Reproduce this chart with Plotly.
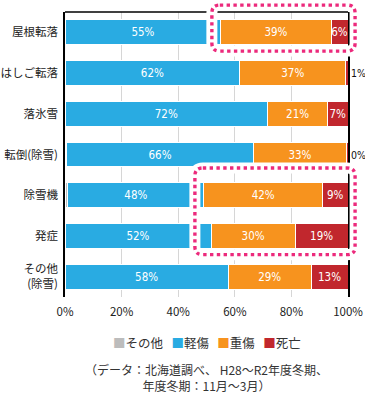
import plotly.graph_objects as go

# ---- data ----
categories = ['屋根転落', 'はしご転落', '落氷雪', '転倒(除雪)', '除雪機', '発症', 'その他<br>(除雪)']
series_names = ['その他', '軽傷', '重傷', '死亡']
other = [0, 0, 0, 0.7, 1.0, 0, 0]
light = [55.1, 61.8, 71.6, 65.8, 48.1, 51.6, 57.7]
serious = [38.9, 37.4, 21.2, 33.1, 41.9, 29.8, 29.3]
death = [6.0, 0.8, 7.2, 0.4, 9.0, 18.6, 13.0]
x_ticks = [0, 20, 40, 60, 80, 100]
x_ticklabels = ['0%', '20%', '40%', '60%', '80%', '100%']
note_lines = ['（データ：北海道調べ、 H28～R2年度冬期、', '年度冬期：11月～3月）']
# highlighted groups: (first row, last row, left x in %)
highlights = [(0, 0, 51.9), (4, 5, 45.9)]

colors = ['#bcbcbc', '#29abe2', '#f7931e', '#c1272d']
pink = '#ec2a7c'
JP = 'Noto Sans CJK JP'
NUM = 'Liberation Sans Narrow, DejaVu Sans Condensed, Roboto, sans-serif'

rows = list(range(len(categories)))
n_rows = len(categories)
fig = go.Figure()
for name, vals, col in zip(series_names, [other, light, serious, death], colors):
    show_text = name != 'その他'
    if name == '死亡':
        pos = ['outside' if v < 2 else 'inside' for v in vals]
    else:
        pos = 'inside'
    fig.add_trace(go.Bar(
        y=rows, x=vals, name=name, orientation='h',
        marker=dict(color=col, line=dict(color='white', width=1)),
        texttemplate='%{x:.0f}%' if show_text else None,
        textposition=pos if show_text else 'none',
        insidetextanchor='middle',
        textangle=0,
        constraintext='none',
        insidetextfont=dict(color='white', size=11.5, family=NUM),
        outsidetextfont=dict(color='#111', size=10.5, family=NUM),
        cliponaxis=False,
        showlegend=False,
        hoverinfo='skip',
    ))

shapes = [dict(type='line', xref='paper', yref='paper', x0=0, x1=1, y0=1, y1=1,
               line=dict(color='black', width=1.5), layer='above')]


def to_px(xv):
    return xv / 100.0


def to_py(idx):
    return (n_rows - 0.5 - idx) / n_rows


def rounded_box(x0, x1, y0, y1, rx, ry):
    # y0 top (higher paper value), y1 bottom
    return (f"M{x0+rx},{y0} L{x1-rx},{y0} Q{x1},{y0} {x1},{y0-ry} "
            f"L{x1},{y1+ry} Q{x1},{y1} {x1-rx},{y1} L{x0+rx},{y1} "
            f"Q{x0},{y1} {x0},{y1+ry} L{x0},{y0-ry} Q{x0},{y0} {x0+rx},{y0} Z")


for r0, r1, xl in highlights:
    p = rounded_box(to_px(xl), to_px(102.5), to_py(r0 - 0.67), to_py(r1 + 0.46), 0.028, 0.028)
    shapes.append(dict(type='path', path=p, xref='paper', yref='paper', layer='above',
                       line=dict(color='white', width=11)))
    shapes.append(dict(type='path', path=p, xref='paper', yref='paper', layer='above',
                       line=dict(color=pink, width=3.4, dash='dot')))

legend_text = '&nbsp;&nbsp;&nbsp;'.join(
    f"<span style='color:{c}'>■</span>{n}" for n, c in zip(series_names, colors))

annotations = [
    dict(xref='paper', yref='paper', x=0.5, y=0, yshift=-45, xanchor='center', yanchor='middle',
         text=legend_text, showarrow=False, font=dict(family=JP, size=12.5, color='#333')),
    dict(xref='paper', yref='paper', x=0.5, y=0, yshift=-80, xanchor='center', yanchor='middle',
         text='<br>'.join(note_lines), showarrow=False, align='center',
         font=dict(family=JP, size=12, color='#333')),
]

fig.update_layout(
    width=365, height=398,
    margin=dict(l=65, r=17, t=12, b=101, autoexpand=False),
    barmode='stack', bargap=0.39,
    plot_bgcolor='white', paper_bgcolor='white',
    font=dict(family=JP, size=12, color='#222'),
    shapes=shapes, annotations=annotations,
    showlegend=False,
    xaxis=dict(range=[0, 100], tickvals=x_ticks, ticktext=x_ticklabels,
               showgrid=True, gridcolor='#d6d6d6', gridwidth=1, zeroline=False,
               showline=False, ticks='', tickfont=dict(size=11.5, family=JP, color='#222'),
               ticklabelstandoff=6, fixedrange=True, automargin=False),
    yaxis=dict(range=[n_rows - 0.5, -0.5], tickvals=rows, ticktext=categories,
               showgrid=False, zeroline=False, showline=True, mirror=True,
               linecolor='black', linewidth=1.5, ticks='',
               tickfont=dict(size=11.5, family=JP, color='#222'),
               ticklabelstandoff=3, fixedrange=True, automargin=False),
)

fig.write_html('out.html', config={'displayModeBar': False},
               post_script="document.body.style.margin='0';document.body.style.overflow='hidden';")
